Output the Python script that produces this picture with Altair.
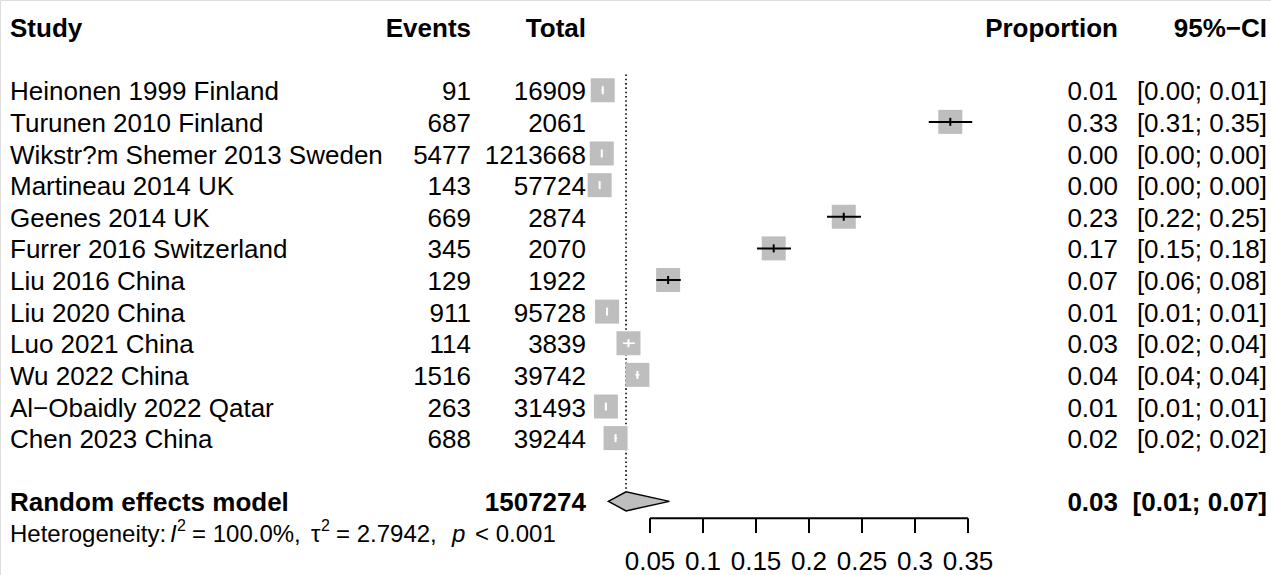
import altair as alt
import pandas as pd

# ---------------- data ----------------
studies = ["Heinonen 1999 Finland", "Turunen 2010 Finland", "Wikstr?m Shemer 2013 Sweden",
           "Martineau 2014 UK", "Geenes 2014 UK", "Furrer 2016 Switzerland", "Liu 2016 China",
           "Liu 2020 China", "Luo 2021 China", "Wu 2022 China", "Al\u2212Obaidly 2022 Qatar",
           "Chen 2023 China"]
events = [91, 687, 5477, 143, 669, 345, 129, 911, 114, 1516, 263, 688]
totals = [16909, 2061, 1213668, 57724, 2874, 2070, 1922, 95728, 3839, 39742, 31493, 39244]
proportions = [0.0054, 0.3333, 0.0045, 0.0025, 0.2328, 0.1667, 0.0671, 0.0095, 0.0297,
               0.0381, 0.0084, 0.0175]
ci_lower = [0.0043, 0.313, 0.0044, 0.0021, 0.217, 0.151, 0.056, 0.0089, 0.0246, 0.0363,
            0.0074, 0.0163]
ci_upper = [0.0066, 0.354, 0.0046, 0.0029, 0.249, 0.183, 0.079, 0.0102, 0.0356, 0.0401,
            0.0094, 0.0188]
prop_labels = ["0.01", "0.33", "0.00", "0.00", "0.23", "0.17", "0.07", "0.01", "0.03",
               "0.04", "0.01", "0.02"]
ci_labels = ["[0.00; 0.01]", "[0.31; 0.35]", "[0.00; 0.00]", "[0.00; 0.00]", "[0.22; 0.25]",
             "[0.15; 0.18]", "[0.06; 0.08]", "[0.01; 0.01]", "[0.02; 0.04]", "[0.04; 0.04]",
             "[0.01; 0.01]", "[0.02; 0.02]"]

pooled_est = 0.0274
pooled_lower = 0.0107
pooled_upper = 0.0683
pooled_total = "1507274"
pooled_prop_label = "0.03"
pooled_ci_label = "[0.01; 0.07]"

axis_ticks = [0.05, 0.10, 0.15, 0.20, 0.25, 0.30, 0.35]
tick_labels = ["0.05", "0.1", "0.15", "0.2", "0.25", "0.3", "0.35"]

# ---------------- layout helpers ----------------
FONT = "Liberation Sans"
FS = 26
DY = 2
GRAY = "#BEBEBE"
BOX = 24  # square side in px

X = alt.Scale(domain=[0.05, 0.35], range=[650, 968], nice=False, zero=False)
Y = alt.Scale(domain=[-2, 14], range=[27, 533], nice=False, zero=False)

n = len(studies)
df = pd.DataFrame({
    "row": list(range(n)),
    "study": studies,
    "events": [str(e) for e in events],
    "total": [str(t) for t in totals],
    "prop": proportions,
    "lo": ci_lower,
    "hi": ci_upper,
    "plab": prop_labels,
    "cilab": ci_labels,
})
px_per_unit = (968 - 650) / 0.30
df["inside"] = ((df["hi"] - df["lo"]) * px_per_unit < BOX).map({True: "in", False: "out"})

base = alt.Chart(df)
yrow = alt.Y("row:Q", scale=Y, axis=None)


def col_text(field, xpix, align, bold=False):
    return base.mark_text(font=FONT, fontSize=FS, align=align, baseline="middle", dy=DY,
                          fontWeight="bold" if bold else "normal", color="black").encode(
        x=alt.value(xpix), y=yrow, text=f"{field}:N")


def label(txt, xpix, row, align="left", bold=False, italic=False, size=FS, dy=0):
    d = pd.DataFrame({"row": [row], "t": [txt]})
    return alt.Chart(d).mark_text(font=FONT, fontSize=size, align=align, baseline="middle",
                                  fontWeight="bold" if bold else "normal",
                                  fontStyle="italic" if italic else "normal",
                                  color="black", dy=DY + dy).encode(
        x=alt.value(xpix), y=alt.Y("row:Q", scale=Y, axis=None), text="t:N")


layers = []
# header
layers += [label("Study", 10, -2, bold=True),
           label("Events", 471, -2, "right", bold=True),
           label("Total", 586, -2, "right", bold=True),
           label("Proportion", 1118, -2, "right", bold=True),
           label("95%\u2212CI", 1267, -2, "right", bold=True)]
# study columns
layers += [col_text("study", 10, "left"), col_text("events", 471, "right"),
           col_text("total", 586, "right"), col_text("plab", 1118, "right"),
           col_text("cilab", 1267, "right")]

# pooled estimate reference line
pdf = pd.DataFrame({"est": [pooled_est], "top": [-0.5], "bot": [12.69]})
layers.append(alt.Chart(pdf).mark_rule(color="black", strokeWidth=1.6, strokeDash=[1.6, 2.7]).encode(
    x=alt.X("est:Q", scale=X, axis=None), y=alt.Y("top:Q", scale=Y, axis=None), y2="bot:Q"))

# squares
layers.append(base.mark_square(size=BOX * BOX, color=GRAY, opacity=1).encode(
    x=alt.X("prop:Q", scale=X, axis=None), y=yrow))
# CI lines and point ticks
for key, colr, sw in [("out", "black", 2), ("in", "white", 1.6)]:
    sub = base.transform_filter(alt.datum.inside == key)
    layers.append(sub.mark_rule(color=colr, strokeWidth=sw).encode(
        x=alt.X("lo:Q", scale=X, axis=None), x2="hi:Q", y=yrow))
    layers.append(sub.mark_rule(color=colr, strokeWidth=2, yOffset=-4, y2Offset=4).encode(
        x=alt.X("prop:Q", scale=X, axis=None), y=yrow, y2="row:Q"))

# diamond
HALF = 0.3
ddf = pd.DataFrame({"x": [pooled_lower, pooled_est, pooled_upper],
                    "yt": [13, 13 - HALF, 13], "yb": [13, 13 + HALF, 13]})
layers.append(alt.Chart(ddf).mark_area(color=GRAY, stroke="black", strokeWidth=1.5,
                                       opacity=1, interpolate="linear").encode(
    x=alt.X("x:Q", scale=X, axis=None), y=alt.Y("yt:Q", scale=Y, axis=None), y2="yb:Q"))

# pooled row text
layers += [label("Random effects model", 10, 13, bold=True),
           label(pooled_total, 586, 13, "right", bold=True),
           label(pooled_prop_label, 1118, 13, "right", bold=True),
           label(pooled_ci_label, 1267, 13, "right", bold=True)]

# axis
adf = pd.DataFrame({"a": [axis_ticks[0]], "b": [axis_ticks[-1]], "y": [13.535]})
layers.append(alt.Chart(adf).mark_rule(color="black", strokeWidth=2).encode(
    x=alt.X("a:Q", scale=X, axis=None), x2="b:Q", y=alt.Y("y:Q", scale=Y, axis=None)))
tdf = pd.DataFrame({"t": axis_ticks, "lab": tick_labels, "y0": 13.535, "y1": 14.0, "yl": 15.17})
layers.append(alt.Chart(tdf).mark_rule(color="black", strokeWidth=2).encode(
    x=alt.X("t:Q", scale=X, axis=None), y=alt.Y("y0:Q", scale=Y, axis=None), y2="y1:Q"))
layers.append(alt.Chart(tdf).mark_text(font=FONT, fontSize=FS, baseline="alphabetic",
                                       align="center", color="black").encode(
    x=alt.X("t:Q", scale=X, axis=None), y=alt.Y("yl:Q", scale=Y, axis=None), text="lab:N"))

# heterogeneity (mixed styling as separate pieces)
HS = 24
het = [("Heterogeneity:", 10, False, HS, 0),
       ("I", 170, True, HS, 0),
       ("2", 177, False, 16, -9),
       ("= 100.0%,", 192, False, HS, 0),
       ("\u03c4", 311, False, HS, 0),
       ("2", 321, False, 16, -9),
       ("= 2.7942,", 336, False, HS, 0),
       ("p", 452, True, HS, 0),
       ("< 0.001", 475, False, HS, 0)]
for t, xp, it, sz, dy in het:
    layers.append(label(t, xp, 14, italic=it, size=sz, dy=dy))

chart = alt.layer(*layers).properties(
    width=1271, height=575, padding=0, autosize="none"
).configure_view(stroke=None).configure(background="white")

chart.save("out.html", embed_options={"renderer": "svg", "actions": False})
